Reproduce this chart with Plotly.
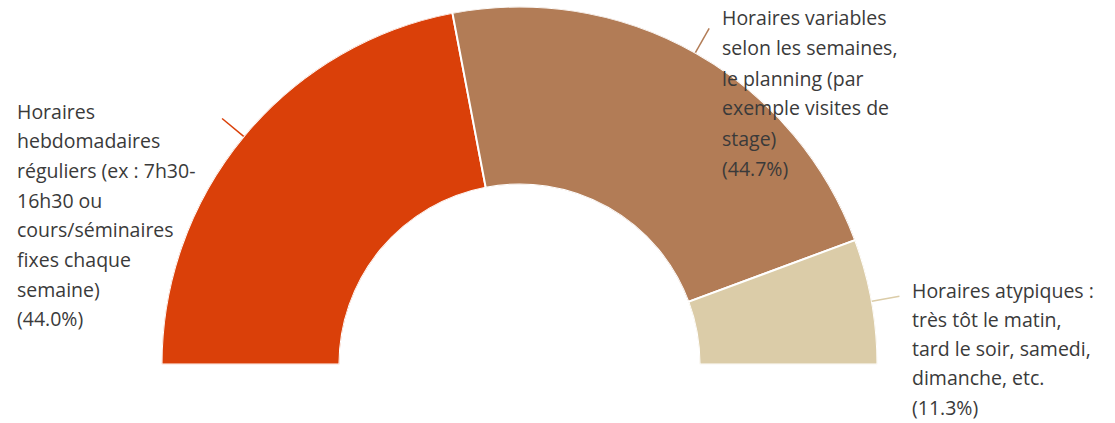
import math
import plotly.graph_objects as go

W, H = 1115, 423

categories = [
    "Horaires hebdomadaires réguliers",
    "Horaires variables selon les semaines",
    "Horaires atypiques",
]
shares = [44.0, 44.7, 11.3]
colors = ["#DA4009", "#B27C56", "#DBCCA8"]

label_lines = [
    ["Horaires", "hebdomadaires", "réguliers (ex : 7h30-", "16h30 ou",
     "cours/séminaires", "fixes chaque", "semaine)", "(44.0%)"],
    ["Horaires variables", "selon les semaines,", "le planning (par",
     "exemple visites de", "stage)", "(44.7%)"],
    ["Horaires atypiques :", "très tôt le matin,", "tard le soir, samedi,",
     "dimanche, etc.", "(11.3%)"],
]

# half donut geometry (px): centre and outer radius
CX, CY, R = 519.5, 364.5, 358

# shares spread over 180 degrees, starting at the left
spans = [s / 100 * 180 for s in shares]
mids = []
start = 0
for sp in spans:
    mids.append(start + sp / 2)
    start += sp

fig = go.Figure()
fig.add_trace(go.Barpolar(
    r=[1] * len(shares),
    theta=mids,
    width=spans,
    marker=dict(color=colors, line=dict(color="white", width=2)),
    text=categories,
    hovertemplate="<b>%{text}</b><extra></extra>",
))

# leader lines going out from the middle of each slice
for m, c in zip(mids, colors):
    a = math.radians(180 - m)
    x0, y0 = CX + R * math.cos(a), CY - R * math.sin(a)
    x1, y1 = CX + (R + 28) * math.cos(a), CY - (R + 28) * math.sin(a)
    fig.add_shape(type="line", xref="paper", yref="paper",
                  x0=x0 / W, y0=1 - y0 / H, x1=x1 / W, y1=1 - y1 / H,
                  line=dict(color=c, width=1.5))

# label blocks (x, y of first line in px, line step)
label_pos = [(17, 111, 29.7), (722, 18, 30), (912, 290, 29.3)]
for lines, (lx, ly, step) in zip(label_lines, label_pos):
    for i, t in enumerate(lines):
        fig.add_annotation(
            x=lx / W, y=1 - (ly + i * step) / H, xref="paper", yref="paper",
            text=t, showarrow=False, xanchor="left", yanchor="middle",
            xshift=-2, font=dict(size=19.5, color="#3a3a3a"),
        )

fig.update_layout(
    width=W, height=H,
    margin=dict(l=0, r=0, t=0, b=0),
    paper_bgcolor="white",
    showlegend=False,
    font=dict(family="Open Sans"),
    polar=dict(
        domain=dict(x=[(CX - R) / W, (CX + R) / W], y=[(H - CY) / H, (H - CY + R) / H]),
        sector=[0, 180],
        hole=0.503,
        bargap=0,
        bgcolor="white",
        radialaxis=dict(range=[0, 1], visible=False),
        angularaxis=dict(direction="clockwise", rotation=180, visible=False),
    ),
)

fig.write_html("out.html", config={"displayModeBar": False},
               post_script="document.body.style.margin='0';")
